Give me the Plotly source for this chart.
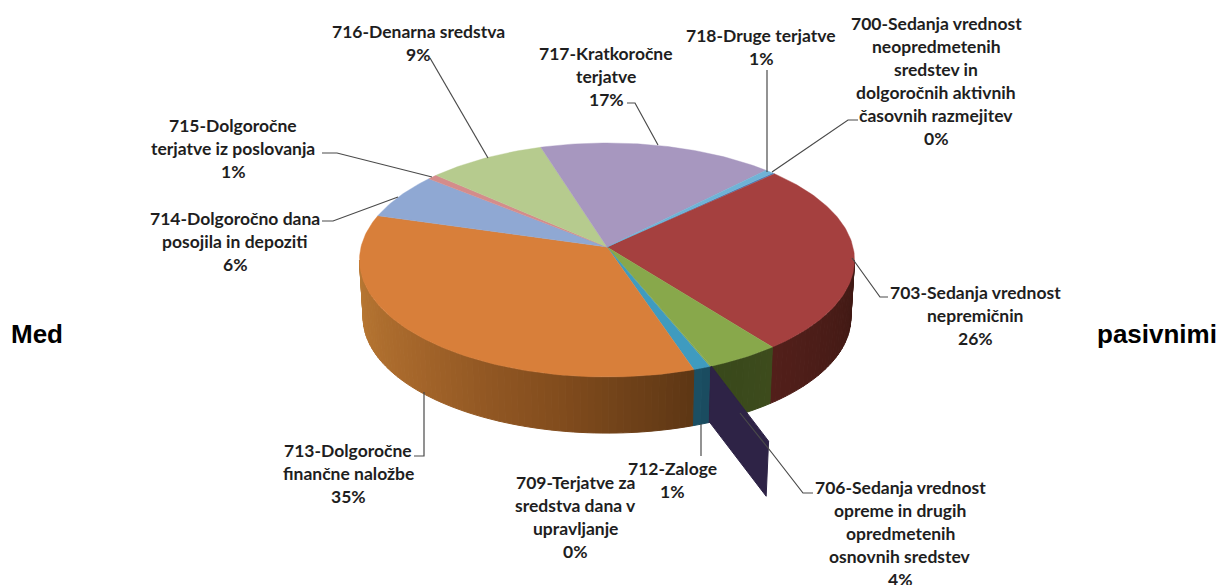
import math
import plotly.graph_objects as go

# ---- data (percent of total, clockwise) ----
codes = ["700", "703", "706", "709", "712", "713", "714", "715", "716", "717", "718"]
values = [0.2, 26.4, 4.3, 0.1, 1.0, 34.6, 6.4, 0.7, 8.6, 17.1, 0.6]
shown_percent = ["0%", "26%", "4%", "0%", "1%", "35%", "6%", "1%", "9%", "17%", "1%"]
names = [
    ["700-Sedanja vrednost", "neopredmetenih", "sredstev in", "dolgoročnih aktivnih", "časovnih razmejitev"],
    ["703-Sedanja vrednost", "nepremičnin"],
    ["706-Sedanja vrednost", "opreme in drugih", "opredmetenih", "osnovnih sredstev"],
    ["709-Terjatve za", "sredstva dana v", "upravljanje"],
    ["712-Zaloge"],
    ["713-Dolgoročne", "finančne naložbe"],
    ["714-Dolgoročno dana", "posojila in depoziti"],
    ["715-Dolgoročne", "terjatve iz poslovanja"],
    ["716-Denarna sredstva"],
    ["717-Kratkoročne", "terjatve"],
    ["718-Druge terjatve"],
]

# ---- styles ----
top_colors = ["#4F81BD", "#A5403F", "#88A84B", "#88A84B", "#3F9BBF", "#D87F3A",
              "#8FA8D3", "#D48C8B", "#B6CB8E", "#A797BF", "#6FB3D6"]
# wall colour stops: (angle clockwise from top, colour)
wall_stops = {
    "700": [(0, "#2C4A6E"), (360, "#2C4A6E")],
    "703": [(96, "#3E1813"), (142, "#521F1A")],
    "706": [(142, "#3D4B1C"), (158, "#38481B")],
    "709": [(158, "#2D2244"), (159, "#2D2244")],
    "712": [(158, "#1A4A5E"), (162, "#1C5166")],
    "713": [(161, "#5C3614"), (190, "#824C1D"), (225, "#A4652A"), (245, "#B0702F"), (264, "#B87833")],
    "714": [(0, "#6F86A8"), (360, "#6F86A8")],
    "715": [(0, "#A06A6A"), (360, "#A06A6A")],
    "716": [(0, "#8A9A6A"), (360, "#8A9A6A")],
    "717": [(0, "#7E7290"), (360, "#7E7290")],
    "718": [(0, "#4A7F9A"), (360, "#4A7F9A")],
}
exploded_wall_color = "#2E2346"
leader_color = "#4A4A4A"
label_color = "#1E1E1E"
label_font = "Lato"
label_size = 17.5
line_height = 23.0

# ---- layout of the pie on the page ----
X0, Y0 = 607.0, 247.0   # apex of the slices
RX, RY = 246.0, 115.6   # plan radius -> page radius
K = 0.111               # perspective strength
DEPTH = 58.0
BOTTOM_SCALE = 0.985
START = 46.4            # rotation of the first slice, degrees clockwise from top
PULL = 1.52             # radial offset of the detached 709 wall
PULL_SKEW = 1.0         # small angular skew of that wall


def project(theta, r=1.0, level=0):
    a = math.radians(90.0 - theta)
    s, c = math.sin(a), math.cos(a)
    w = 1.0 + K * r * s
    dx, dy = RX * r * c / w, -RY * r * s / w
    if level:
        return X0 + dx * BOTTOM_SCALE, Y0 + dy * BOTTOM_SCALE + DEPTH
    return X0 + dx, Y0 + dy


def hex_rgb(h):
    return tuple(int(h[i:i + 2], 16) for i in (1, 3, 5))


def wall_color(code, theta):
    stops = wall_stops[code]
    if theta <= stops[0][0]:
        return stops[0][1]
    for (t0, c0), (t1, c1) in zip(stops, stops[1:]):
        if theta <= t1:
            f = (theta - t0) / (t1 - t0)
            a, b = hex_rgb(c0), hex_rgb(c1)
            return "rgb(%d,%d,%d)" % tuple(round(a[i] + (b[i] - a[i]) * f) for i in range(3))
    return stops[-1][1]


def poly(xs, ys, color, width=1.0):
    return go.Scatter(x=xs + xs[:1], y=ys + ys[:1], mode="lines", fill="toself",
                      fillcolor=color, line=dict(color=color, width=width),
                      hoverinfo="skip", showlegend=False)


fig = go.Figure()

# slice boundaries from the values
total = sum(values)
bounds = [START]
for v in values:
    bounds.append(bounds[-1] + v / total * 360.0)

vis_a = math.degrees(math.asin(K))
vis_lo, vis_hi = 90.0 + vis_a, 270.0 - vis_a

# walls
for i, code in enumerate(codes):
    t0, t1 = max(bounds[i], vis_lo), min(bounds[i + 1], vis_hi)
    if t1 <= t0:
        continue
    n = max(1, int((t1 - t0) / 1.5))
    for j in range(n):
        a, b = t0 + (t1 - t0) * j / n, t0 + (t1 - t0) * (j + 1) / n
        pts = [project(a), project(b), project(b, level=1), project(a, level=1)]
        fig.add_trace(poly([p[0] for p in pts], [p[1] for p in pts],
                           wall_color(code, (a + b) / 2)))

# tops
for i, code in enumerate(codes):
    t0, t1 = bounds[i], bounds[i + 1]
    n = max(2, int((t1 - t0) / 1.0))
    pts = [(X0, Y0)] + [project(t0 + (t1 - t0) * j / n) for j in range(n + 1)]
    fig.add_trace(poly([p[0] for p in pts], [p[1] for p in pts], top_colors[i], 0.4))

# detached wall of the 0 % slice 709
idx = codes.index("709")
th = bounds[idx]
pts = [project(th), project(th + PULL_SKEW, PULL), project(th + PULL_SKEW, PULL, 1), project(th, 1.0, 1)]
fig.add_trace(poly([p[0] for p in pts], [p[1] for p in pts], exploded_wall_color))

# leader lines (page placement of the labels)
leaders = [
    [(858, 120), (848, 120), (772, 172)],
    [(888, 297), (880, 297), (852, 258)],
    [(813, 493), (803, 493), (772, 453), (740, 413)],
    [],
    [(701, 424), (701, 456)],
    [(424, 392), (424, 456), (414, 456)],
    [(322, 221), (333, 221), (398, 197)],
    [(322, 153), (337, 153), (432, 177)],
    [(430, 58), (488, 158)],
    [(627, 103), (635, 103), (658, 145)],
    [(767, 70), (767, 172)],
]
for path in leaders:
    if path:
        fig.add_trace(go.Scatter(x=[p[0] for p in path], y=[p[1] for p in path], mode="lines",
                                 line=dict(color=leader_color, width=1.2),
                                 hoverinfo="skip", showlegend=False))

# label placement: centre x and y of the first line
label_pos = [(936, 23), (975, 292), (900, 487), (575, 482), (672, 468), (348, 450),
             (235, 218), (233, 125), (418, 31), (606, 53), (761, 35)]

annotations = []
for name_lines, pct, (cx, cy) in zip(names, shown_percent, label_pos):
    for j, t in enumerate(name_lines + [pct]):
        annotations.append(dict(x=cx, y=cy + j * line_height, text="<b>%s</b>" % t, showarrow=False,
                                xanchor="center", yanchor="middle",
                                font=dict(family=label_font, size=label_size, color=label_color)))

side_font = dict(family="Liberation Sans", size=26, color="#000000")
annotations.append(dict(x=9, y=334, text="<b>Med</b>", showarrow=False, xanchor="left",
                        yanchor="middle", font=side_font))
annotations.append(dict(x=1219, y=334, text="<b>pasivnimi</b>", showarrow=False, xanchor="right",
                        yanchor="middle", font=side_font))

fig.update_layout(
    width=1221, height=585, margin=dict(l=0, r=0, t=0, b=0),
    paper_bgcolor="#FFFFFF", plot_bgcolor="#FFFFFF",
    xaxis=dict(range=[0, 1221], visible=False, fixedrange=True),
    yaxis=dict(range=[585, 0], visible=False, fixedrange=True),
    annotations=annotations, showlegend=False,
)
fig.write_html("out.html", config=dict(displayModeBar=False),
               post_script="document.documentElement.style.overflow='hidden';"
                           "document.body.style.margin='0';")
